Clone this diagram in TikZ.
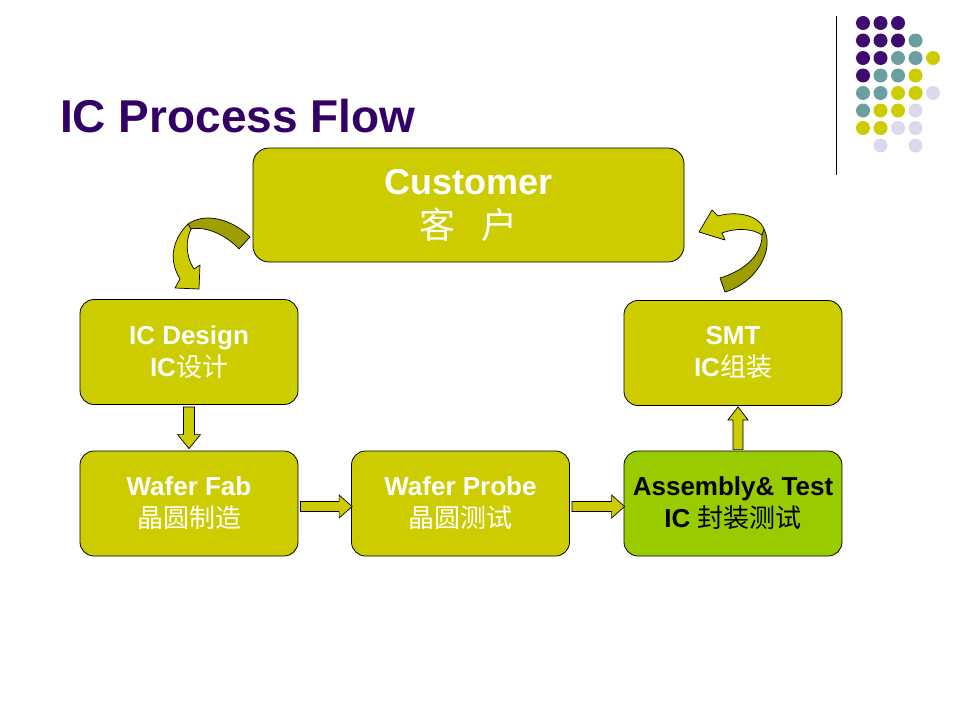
\documentclass[tikz,border=0pt]{standalone}
\usepackage{fontspec}
\setmainfont{Liberation Sans}
\newfontfamily\cjk{Noto Sans CJK SC}
\usetikzlibrary{calc}
\definecolor{boxyel}{HTML}{CCCC00}
\definecolor{boxgrn}{HTML}{99CC00}
\definecolor{darkol}{HTML}{9E9E00}
\definecolor{titlepur}{HTML}{330066}
\definecolor{dp}{HTML}{3D0C6E}
\definecolor{dt}{HTML}{6B9E9E}
\definecolor{dy}{HTML}{CCCC00}
\definecolor{dl}{HTML}{DADAEC}
\begin{document}
\begin{tikzpicture}[x=1pt,y=-1pt,
  box/.style={draw=black, line width=0.8pt, fill=boxyel, rounded corners=14pt,
    minimum width=218pt, minimum height=105pt, text=white,
    font=\bfseries\fontsize{26}{32}\selectfont, align=center, inner sep=0pt},
  barrow/.style={draw=black, line width=0.7pt, fill=boxyel, line join=miter},
  cband/.style={draw=black, line width=0.7pt, line join=round}]
\useasboundingbox (0,0) rectangle (960,720);

% title
\node[anchor=base west, text=titlepur, inner sep=0pt,
  font=\bfseries\fontsize{46}{55}\selectfont] (title) at (60,132) {IC Process Flow};

% decoration: line and dots
\draw[line width=1.2pt] (836.5,16) -- (836.5,175);
\foreach \c/\r/\col in {0/0/dp,1/0/dp,2/0/dp,
  0/1/dp,1/1/dp,2/1/dp,3/1/dt,
  0/2/dp,1/2/dp,2/2/dt,3/2/dt,4/2/dy,
  0/3/dp,1/3/dt,2/3/dt,3/3/dy,
  0/4/dt,1/4/dt,2/4/dy,3/4/dy,4/4/dl,
  0/5/dt,1/5/dy,2/5/dy,3/5/dl,
  0/6/dy,1/6/dy,2/6/dl,3/6/dl,
  1/7/dl,3/7/dl}
  \fill[\col] ({863+17.5*\c},{23+17.5*\r}) circle (7);

% curved arrows (behind boxes)
\fill[darkol, cband] (250,237) .. controls (232,219) and (205,212) .. (188,224)
  -- (191,229) .. controls (205,226) and (225,234) .. (239,249) -- cycle;
\fill[boxyel, cband] (188,224) .. controls (176,236) and (166,256) .. (180,279)
  -- (175,288) -- (199,289) -- (200,265) -- (194,269)
  .. controls (185,255) and (186,240) .. (191,229) -- cycle;

\fill[darkol, cband] (764,229) .. controls (775,250) and (756,283) .. (725,292)
  -- (720,278) .. controls (740,272) and (762,258) .. (762,235) -- cycle;
\fill[boxyel, cband] (699,232) -- (712,210) -- (718,216)
  .. controls (735,211) and (758,214) .. (764,229) -- (762,235)
  .. controls (752,228) and (735,228) .. (722,233) -- (725,240) -- cycle;

% boxes
\node[box, minimum width=431pt, minimum height=114pt, rounded corners=16pt,
  font=\bfseries\fontsize{36}{44}\selectfont] (cust) at (468.5,205)
  {Customer\\{\mdseries\cjk 客\hspace{26pt}户}};
\node[box] (design) at (189,352) {IC Design\\IC{\mdseries\cjk 设计}};
\node[box] (smt) at (733,353) {SMT\\IC{\mdseries\cjk 组装}};
\node[box] (fab) at (189,503.5) {Wafer Fab\\{\mdseries\cjk 晶圆制造}};
\node[box] (probe) at (460.5,503.5) {Wafer Probe\\{\mdseries\cjk 晶圆测试}};
\node[box, fill=boxgrn, text=black] (asm) at (733,503.5) {Assembly\& Test\\IC {\mdseries\cjk 封装测试}};

% straight block arrows
\draw[barrow] ($(design.south)+(-5.5,2)$) -- ($(fab.north)+(-5.5,-16)$)
  -- ($(fab.north)+(-11.5,-16)$) -- ($(fab.north)+(0,-2)$)
  -- ($(fab.north)+(11.5,-16)$) -- ($(fab.north)+(5.5,-16)$)
  -- ($(design.south)+(5.5,2)$) -- cycle;

\draw[barrow] ($(fab.east)+(2,-2)$) -- ($(probe.west)+(-12,-2)$)
  -- ($(probe.west)+(-12,-8.5)$) -- ($(probe.west)+(1,3)$)
  -- ($(probe.west)+(-12,14.5)$) -- ($(probe.west)+(-12,8)$)
  -- ($(fab.east)+(2,8)$) -- cycle;

\draw[barrow] ($(probe.east)+(2,-2)$) -- ($(asm.west)+(-12,-2)$)
  -- ($(asm.west)+(-12,-8.5)$) -- ($(asm.west)+(1,3)$)
  -- ($(asm.west)+(-12,14.5)$) -- ($(asm.west)+(-12,8)$)
  -- ($(probe.east)+(2,8)$) -- cycle;

\draw[barrow] ($(asm.north)+(0,-1)$) -- ($(smt.south)+(0,14)$)
  -- ($(smt.south)+(-5,14)$) -- ($(smt.south)+(5,1)$)
  -- ($(smt.south)+(15,14)$) -- ($(smt.south)+(10,14)$)
  -- ($(asm.north)+(10,-1)$) -- cycle;
\end{tikzpicture}
\end{document}
